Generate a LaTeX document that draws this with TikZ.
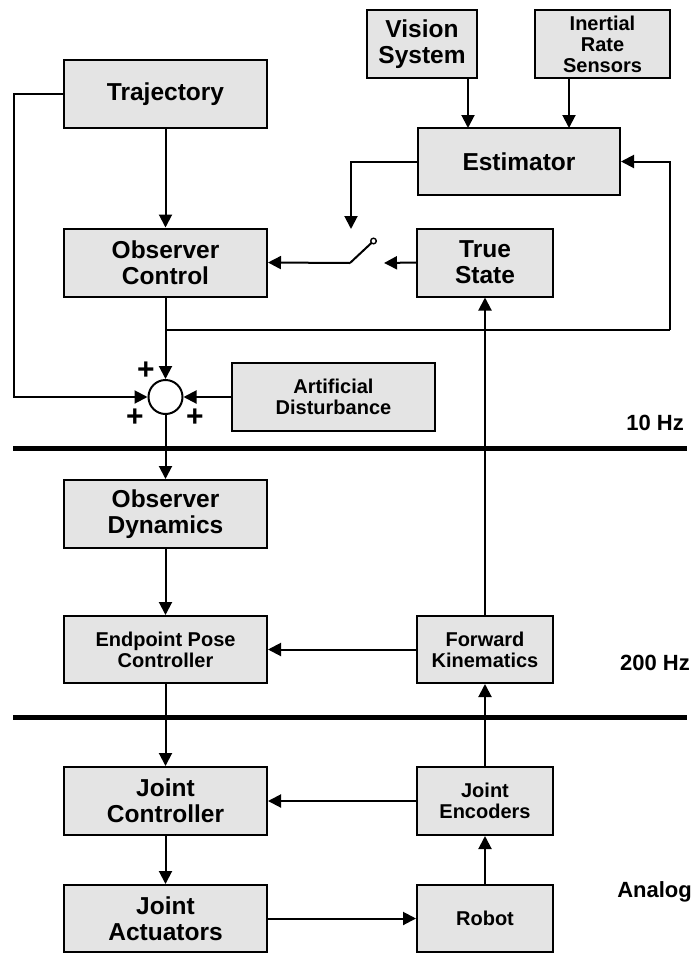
\documentclass[tikz,border=0pt]{standalone}
\usepackage{fontspec}
\setmainfont{Liberation Sans}
\usetikzlibrary{arrows.meta}
\definecolor{boxgray}{RGB}{228,228,228}
\begin{document}
\begin{tikzpicture}[x=1pt,y=-1pt,
  big/.style={font=\bfseries\fontsize{24.5}{26}\selectfont},
  small/.style={font=\bfseries\fontsize{20}{21}\selectfont},
  blk/.style={draw, line width=2pt, fill=boxgray, align=center, inner sep=0pt,
              minimum height=68pt},
  wide/.style={blk, minimum width=203pt},
  narrow/.style={blk, minimum width=136pt},
  arr/.style={line width=2pt, -{Triangle[length=13pt 0,width=13pt 0]}},
  wire/.style={line width=2pt},
  rate/.style={line width=5pt},
  ratelabel/.style={anchor=east, inner sep=0pt, font=\bfseries\fontsize{22}{24}\selectfont},
  plus/.style={inner sep=0pt, font=\bfseries\fontsize{30}{30}\selectfont}]
\useasboundingbox (0,0) rectangle (694,953);

% blocks
\node[wide, big] (traj) at (165.5,94) {Trajectory};
\node[blk, big, minimum width=110pt] (vision) at (422,44) {Vision\\System};
\node[blk, small, minimum width=135pt] (inertial) at (602.5,44) {Inertial\\Rate\\Sensors};
\node[blk, big, minimum width=202pt, minimum height=67pt] (est) at (519,161.5) {Estimator};
\node[wide, big] (obsctrl) at (165.5,262.5) {Observer\\Control};
\node[narrow, big] (truestate) at (485,262.5) {True\\State};
\node[wide, small] (artdist) at (333.5,397) {Artificial\\Disturbance};
\node[wide, big] (obsdyn) at (165.5,514) {Observer\\Dynamics};
\node[wide, small, minimum height=67pt] (epc) at (165.5,649.5) {Endpoint Pose\\Controller};
\node[narrow, small, minimum height=67pt] (fk) at (485,649.5) {Forward\\Kinematics};
\node[wide, big] (jc) at (165.5,801) {Joint\\Controller};
\node[narrow, small] (je) at (485,801) {Joint\\Encoders};
\node[wide, big, minimum height=67pt] (ja) at (165.5,918.5) {Joint\\Actuators};
\node[narrow, small, minimum height=67pt] (robot) at (485,918.5) {Robot};

% summing junction
\node[draw, circle, line width=2pt, fill=white, minimum size=34pt, inner sep=0pt] (sum) at (165.5,397) {};
\node[plus] (p1) at (146,371) {+};
\node[plus] (p2) at (135,418) {+};
\node[plus] (p3) at (195,418) {+};

% sample-rate boundaries
\coordinate (r1a) at (13,448);  \coordinate (r1b) at (687,448);
\coordinate (r2a) at (13,717);  \coordinate (r2b) at (687,717);
\draw[rate] (r1a) -- (r1b);
\draw[rate] (r2a) -- (r2b);
\node[ratelabel] (l10) at (684,423) {10 Hz};
\node[ratelabel] (l200) at (690,663) {200 Hz};
\node[ratelabel] (lan) at (692,892) {Analog};

% switch between estimate and true state
\coordinate (swL) at (350,263);
\coordinate (swR) at (384,263);
\coordinate (swTop) at (351,229);
\coordinate (swPivot) at (373.5,241);
\coordinate (estL) at (351,161.5);
\draw[wire] (swL) -- (371.6,242.8);
\draw[line width=1.4pt, fill=white] (swPivot) circle (2.8pt);
\draw[arr] (swL) -- (obsctrl.east);
\draw[arr] (truestate.west) -- (swR);
\draw[arr] (est.west) -- (estL) -- (swTop);

% sensor inputs
\draw[arr] (vision.south -| 468,0) -- (468,128);
\draw[arr] (inertial.south -| 569,0) -- (569,128);

% upper loop
\coordinate (branch) at (165.5,330);
\coordinate (fbk) at (670,330);
\coordinate (tl) at (14,94);
\draw[arr] (traj.south) -- (obsctrl.north);
\draw[arr] (obsctrl.south) -- (sum.north);
\draw[wire] (branch) -- (fbk);
\draw[arr] (fbk) |- (est.east);
\draw[arr] (traj.west) -- (tl) |- (sum.west);
\draw[arr] (artdist.west) -- (sum.east);
\draw[arr] (sum.south) -- (obsdyn.north);

% lower chain
\draw[arr] (obsdyn.south) -- (epc.north);
\draw[arr] (epc.south) -- (jc.north);
\draw[arr] (jc.south) -- (ja.north);
\draw[arr] (ja.east) -- (robot.west);
\draw[arr] (robot.north) -- (je.south);
\draw[arr] (je.west) -- (jc.east);
\draw[arr] (je.north) -- (fk.south);
\draw[arr] (fk.west) -- (epc.east);
\draw[arr] (fk.north) -- (truestate.south);
\end{tikzpicture}
\end{document}
